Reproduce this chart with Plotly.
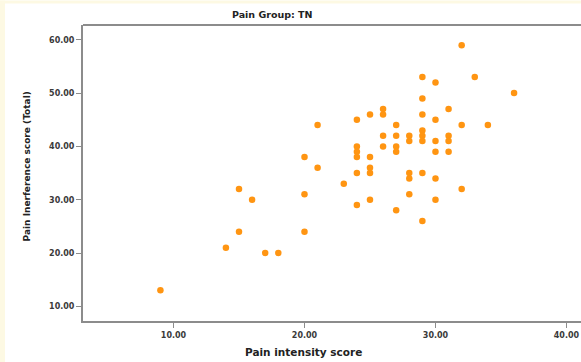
import plotly.graph_objects as go

# Pain intensity score (x) and Pain interference score (y)
pain_intensity = [9, 14, 15, 15, 16, 17, 18, 20, 20, 20, 21, 21, 23,
                  24, 24, 24, 24, 24, 24, 25, 25, 25, 25, 25,
                  26, 26, 26, 26, 27, 27, 27, 27, 27,
                  28, 28, 28, 28, 28,
                  29, 29, 29, 29, 29, 29, 29, 29,
                  30, 30, 30, 30, 30, 30,
                  31, 31, 31, 31, 32, 32, 32, 33, 34, 36]
pain_interference = [13, 21, 32, 24, 30, 20, 20, 38, 31, 24, 44, 36, 33,
                     45, 40, 39, 38, 35, 29, 46, 38, 36, 35, 30,
                     47, 46, 42, 40, 44, 42, 40, 39, 28,
                     42, 41, 35, 34, 31,
                     53, 49, 46, 43, 42, 41, 35, 26,
                     52, 45, 41, 39, 34, 30,
                     47, 42, 41, 39, 59, 44, 32, 53, 44, 50]

x_ticks = [10, 20, 30, 40]
y_ticks = [10, 20, 30, 40, 50, 60]

title_text = "Pain Group: TN"
x_title = "Pain intensity score"
y_title = "Pain Inerference score (Total)"

W, H = 581, 362
ML, MT, MB, MR = 83, 24.5, 41.3, 0
pw = W - ML - MR
ph = H - MT - MB

def px_x(p):
    return (p - ML) / pw

def px_y(p):
    return (H - MB - p) / ph

axis_col = "#8c8c8c"
font_fam = "DejaVu Sans"
cream = "#fdf9e3"

fig = go.Figure()
fig.add_trace(go.Scatter(
    x=pain_intensity, y=pain_interference, mode="markers",
    marker=dict(color="#ff9512", size=6.5, line=dict(width=0)),
    showlegend=False, cliponaxis=False,
))

tick_font = dict(family=font_fam, size=8, color="#3a3a3a")

fig.update_layout(
    width=W, height=H,
    margin=dict(l=ML, r=MR, t=MT, b=MB, pad=0),
    paper_bgcolor="white", plot_bgcolor="white",
    xaxis=dict(range=[3.09, 41.11], tickvals=x_ticks,
               ticktext=["<b>%.2f</b>" % v for v in x_ticks],
               showgrid=False, zeroline=False, showline=True, linecolor=axis_col,
               linewidth=2, ticks="outside", ticklen=5, tickwidth=1, tickcolor=axis_col,
               tickfont=tick_font),
    yaxis=dict(range=[7.24, 62.78], tickvals=y_ticks,
               ticktext=["<b>%.2f</b>" % v for v in y_ticks],
               showgrid=False, zeroline=False, showline=True, linecolor=axis_col,
               linewidth=2, ticks="outside", ticklen=5, tickwidth=1, tickcolor=axis_col,
               tickfont=tick_font),
    shapes=[
        dict(type="rect", xref="paper", yref="paper", x0=px_x(0), x1=px_x(5),
             y0=px_y(H), y1=px_y(0), fillcolor=cream, line=dict(width=0), layer="below"),
        dict(type="rect", xref="paper", yref="paper", x0=px_x(0), x1=px_x(W),
             y0=px_y(3), y1=px_y(0), fillcolor=cream, line=dict(width=0), layer="below"),
        dict(type="line", xref="paper", yref="paper", x0=0, x1=1, y0=1, y1=1,
             line=dict(color=axis_col, width=2)),
    ],
    annotations=[
        dict(text="<b>" + title_text + "</b>", xref="paper", yref="paper",
             x=px_x(272), y=px_y(14), showarrow=False, xanchor="center", yanchor="middle",
             font=dict(family=font_fam, size=9.5, color="#222222")),
        dict(text="<b>" + x_title + "</b>", xref="paper", yref="paper",
             x=px_x(303.5), y=px_y(352), showarrow=False, xanchor="center", yanchor="middle",
             font=dict(family=font_fam, size=10.5, color="#222222")),
        dict(text="<b>" + y_title + "</b>", xref="paper", yref="paper",
             x=px_x(27), y=px_y(166), showarrow=False, xanchor="center", yanchor="middle",
             textangle=-90, font=dict(family=font_fam, size=9, color="#222222")),
    ],
)

fig.write_html("out.html")
